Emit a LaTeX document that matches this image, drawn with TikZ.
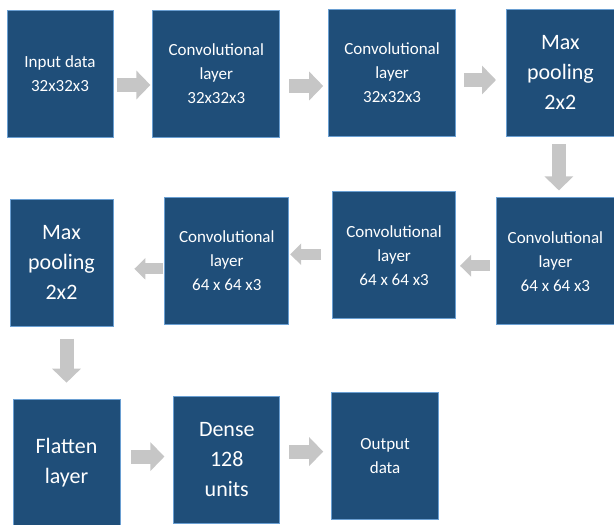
\documentclass[tikz,border=0pt]{standalone}
\usepackage{fontspec}
\setmainfont{Carlito}
\usepackage{xcolor}
\usetikzlibrary{positioning,arrows.meta}

\definecolor{boxblue}{HTML}{1F4E79}
\definecolor{boxedge}{HTML}{6A9FD2}
\definecolor{arrowgray}{HTML}{C6C6C6}

\tikzset{
  block/.style={rectangle, fill=boxblue, draw=boxedge, line width=0.8pt,
    text=white, align=center, inner sep=0pt, minimum height=127pt,
    font=\fontsize{17}{24}\selectfont},
  bigtxt/.style={font=\fontsize{22}{30}\selectfont},
  flow/.style={draw=arrowgray, line width=14pt,
    -{Triangle[length=14pt,width=28pt]}},
  thinflow/.style={draw=arrowgray, line width=11pt,
    -{Triangle[length=11pt,width=21pt]}}
}

\begin{document}
\begin{tikzpicture}[x=1pt,y=1pt]

     \useasboundingbox (0,0) rectangle (614,-525);

     % Define nodes
     \node[block, minimum width=106pt] (in) at (60,-74) {Input data\\32x32x3};
     \node[block, right=39pt of in, minimum width=127pt] (conv1) {Convolutional\\layer\\32x32x3};
     \node[block, right=48pt of conv1, yshift=1.5pt, minimum width=127pt] (conv2) {Convolutional\\layer\\32x32x3};
     \node[block, bigtxt, right=50pt of conv2, minimum width=108pt] (pool1) {Max\\pooling\\2x2};
     \node[block, below=61pt of pool1, xshift=-5pt, minimum width=118pt] (conv3) {Convolutional\\layer\\64 x 64 x3};
     \node[block, left=40pt of conv3, yshift=6pt, minimum width=123pt] (conv4) {Convolutional\\layer\\64 x 64 x3};
     \node[block, left=43pt of conv4, yshift=-5.5pt, minimum width=124pt] (conv5) {Convolutional\\layer\\64 x 64 x3};
     \node[block, bigtxt, left=51pt of conv5, yshift=-2pt, minimum width=103pt] (pool2) {Max\\pooling\\2x2};
     \node[block, bigtxt, below=72pt of pool2, xshift=5pt, minimum width=107pt] (flat) {Flatten\\layer};
     \node[block, bigtxt, right=53pt of flat, yshift=3pt, minimum width=106pt] (dense) {Dense\\128\\units};
     \node[block, right=51pt of dense, yshift=3.5pt, minimum width=107pt] (output) {Output\\data};

     % Connect the nodes
     \draw[flow, shorten <=4pt, shorten >=2pt] ([yshift=-11pt]in.east) -- ([yshift=-11pt]conv1.west);
     \draw[flow, shorten <=9pt, shorten >=5pt] ([yshift=-12pt]conv1.east) -- ([yshift=-13.5pt]conv2.west);
     \draw[flow, shorten <=8pt, shorten >=10pt] ([yshift=-7.5pt]conv2.east) -- ([yshift=-7.5pt]pool1.west);
     \draw[flow, shorten <=8pt, shorten >=7pt] ([xshift=-1.5pt]pool1.south) -- ([xshift=3.5pt]conv3.north);
     \draw[thinflow, shorten <=6pt, shorten >=4pt] ([yshift=-4.5pt]conv3.west) -- ([yshift=-10.5pt]conv4.east);
     \draw[thinflow, shorten <=11pt, shorten >=1pt] ([yshift=1pt]conv4.west) -- ([yshift=6.5pt]conv5.east);
     \draw[thinflow, shorten <=1pt, shorten >=21pt] ([yshift=-8pt]conv5.west) -- ([yshift=-6pt]pool2.east);
     \draw[flow, shorten <=12pt, shorten >=16pt] ([xshift=5pt]pool2.south) -- (flat.north);
     \draw[flow, shorten <=11pt, shorten >=9pt] ([yshift=6pt]flat.east) -- ([yshift=3pt]dense.west);
     \draw[flow, shorten <=9pt, shorten >=8pt] ([yshift=8pt]dense.east) -- ([yshift=4.5pt]output.west);

\end{tikzpicture}
\end{document}
